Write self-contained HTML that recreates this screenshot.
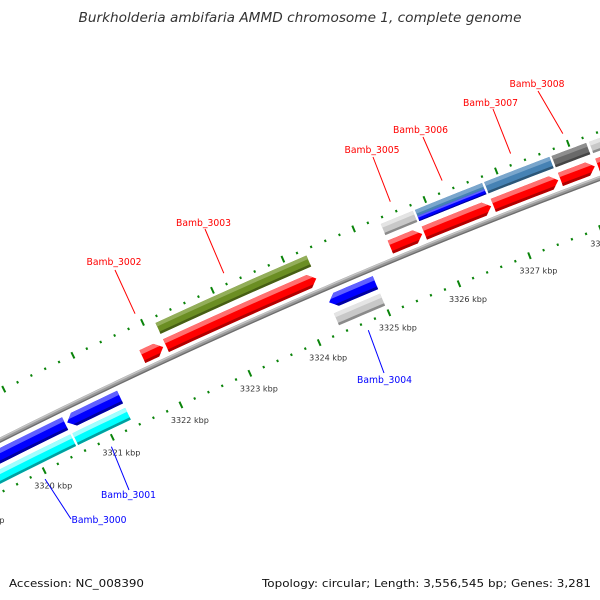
<!DOCTYPE html>
<html><head><meta charset="utf-8">
<style>
html,body{margin:0;padding:0;background:#fff;}
svg{display:block;}
text{font-family:"DejaVu Sans","Liberation Sans",sans-serif;}
</style></head>
<body>
<svg id="map" width="600" height="600" viewBox="0 0 600 600" xmlns="http://www.w3.org/2000/svg">
<rect width="600" height="600" fill="#fff"/>
<text x="300" y="22" text-anchor="middle" font-size="13" font-style="italic" fill="#333" textLength="443" lengthAdjust="spacingAndGlyphs">Burkholderia ambifaria AMMD chromosome 1, complete genome</text>
<g id="ticks"></g>
<g id="backbone"></g>
<g id="features"></g>
<g id="labels"></g>
<text x="9" y="587" font-size="11" fill="#111" textLength="135" lengthAdjust="spacingAndGlyphs">Accession: NC_008390</text>
<text x="591" y="587" text-anchor="end" font-size="11" fill="#111" textLength="329" lengthAdjust="spacingAndGlyphs">Topology: circular; Length: 3,556,545 bp; Genes: 3,281</text>
</svg>
<script>
// ---- data (kbp) ----
const geneNames  = ["Bamb_3000","Bamb_3001","Bamb_3002","Bamb_3003","Bamb_3004","Bamb_3005","Bamb_3006","Bamb_3007","Bamb_3008","Bamb_3009"];
const geneStart  = [3319.40, 3320.55, 3321.81, 3322.15, 3324.33, 3325.35, 3325.83, 3326.80, 3327.74, 3328.26];
const geneEnd    = [3320.52, 3321.32, 3322.11, 3324.30, 3324.99, 3325.80, 3326.77, 3327.71, 3328.22, 3328.80];
const geneStrand = [-1, -1, 1, 1, -1, 1, 1, 1, 1, 1];
const geneCog    = ["cyan","cyan","","olive","lightgray","lightgray","steelblue+blue","steelblue","dimgray","lightgray"];
const geneLabeled = [true,true,true,true,true,true,true,true,true,false];
const tickStart = 3318, tickEnd = 3330, tickStep = 0.2;
const tickLabels = ["3318 kbp","3319 kbp","3320 kbp","3321 kbp","3322 kbp","3323 kbp","3324 kbp","3325 kbp","3326 kbp","3327 kbp","3328 kbp","3329 kbp","3330 kbp"];

// ---- label layout (pixels, not data) ----
const labelTextPos = [[99,523],[128.5,498],[114,265],[203.5,226],[384.5,383],[372,153],[420.5,133],[490.5,106],[537,87],[0,0]];
const labelLineEnd = [[71,519],[129,490],[115,270],[205,229],[384,373],[373,157],[423,137],[493,109],[538,91],[0,0]];

// ---- geometry ----
const CX=2732, CY=5883, K=0.01255, T0=-2.01917, P0=3321;
const R_BB=6090, R_TO=6134, R_TI=6043;
function ang(p){return T0+(p-P0)*K;}
function pt(p,r){const a=ang(p);return [CX+r*Math.cos(a), CY+r*Math.sin(a)];}
const NS="http://www.w3.org/2000/svg";
function mk(tag,parent){const e=document.createElementNS(NS,tag);parent.appendChild(e);return e;}
const colorMap={cyan:["#00ffff","#9fffff","#00a0a0"],olive:["#6b8e23","#93ae5a","#465e14"],lightgray:["#c8c8c8","#e4e4e4","#8a8a8a"],steelblue:["#4682b4","#7aa6cc","#2c5677"],dimgray:["#696969","#8e8e8e","#454545"],red:["#ff0000","#ff7070","#b00000"],blue:["#0000ff","#6060ff","#0000a0"]};

// backbone
(function(){
  const g=document.getElementById('backbone');
  const layers=[[R_BB,5,"#9a9a9a"],[R_BB+1.5,1.5,"#c4c4c4"],[R_BB-1.8,1.3,"#6e6e6e"]];
  layers.forEach((L,i)=>{
    let d="";
    for(let p=3318;p<=3330.01;p+=0.1){const q=pt(p,L[0]);d+=(d?"L":"M")+q[0].toFixed(2)+","+q[1].toFixed(2);}
    const e=mk('path',g);
    
    
    e.setAttribute('d',d);e.setAttribute('fill','none');e.setAttribute('stroke',L[2]);e.setAttribute('stroke-width',L[1]);
  });
})();

// ticks
(function(){
  const g=document.getElementById('ticks');
  const n=Math.round((tickEnd-tickStart)/tickStep);
  for(let i=0;i<=n;i++){
    const p=tickStart+i*tickStep;
    const major=Math.abs(p-Math.round(p))<1e-6;
    const len=major?7:2.4;
    [R_TO,R_TI].forEach((r,j)=>{
      const a=pt(p,r-len/2),b=pt(p,r+len/2);
      const e=mk('line',g);
      
      
      e.setAttribute('x1',a[0]);e.setAttribute('y1',a[1]);e.setAttribute('x2',b[0]);e.setAttribute('y2',b[1]);
      e.setAttribute('stroke','#0a840a');e.setAttribute('stroke-width',2);
    });
    if(major){
      const k=Math.round(p)-tickStart;
      const q=pt(p,R_TI);
      const t=mk('text',g);
      
      
      t.setAttribute('x',q[0]+9);t.setAttribute('y',q[1]+18);
      t.setAttribute('text-anchor','middle');t.setAttribute('font-size','8');t.setAttribute('fill','#333');
      t.setAttribute('textLength','38');t.setAttribute('lengthAdjust','spacingAndGlyphs');
      t.textContent=tickLabels[k];
    }
  }
})();

// feature shape: band [a,b] of a bar spanning rIn..rOut, with optional arrow
function bandPath(p1,p2,rIn,rOut,dir,a,b,head){
  const rMid=(rIn+rOut)/2, half=(rOut-rIn)/2;
  const radii=[a]; if(a<rMid&&rMid<b) radii.push(rMid); radii.push(b);
  const endP=r=> dir>0 ? p2-head*Math.abs(r-rMid)/half : p2;
  const startP=r=> dir<0 ? p1+head*Math.abs(r-rMid)/half : p1;
  const pts=[];
  // end edge going outward
  for(const r of radii) pts.push(pt(endP(r),r));
  // outer arc back
  for(let k=1;k<=6;k++){const p=endP(b)+(startP(b)-endP(b))*k/6;pts.push(pt(p,b));}
  // start edge inward
  for(let i=radii.length-2;i>=0;i--) pts.push(pt(startP(radii[i]),radii[i]));
  for(let k=1;k<6;k++){const p=startP(a)+(endP(a)-startP(a))*k/6;pts.push(pt(p,a));}
  return "M"+pts.map(q=>q[0].toFixed(2)+","+q[1].toFixed(2)).join("L")+"Z";
}
function drawBar(g,name,p1,p2,rIn,rOut,dir,colors,head){
  const th=rOut-rIn;
  const bands=[[rIn,rOut,colors[0]],[rOut-th*0.33,rOut,colors[1]],[rIn,rIn+th*0.2,colors[2]]];
  bands.forEach((B,i)=>{
    const e=mk('path',g);
    
    
    e.setAttribute('d',bandPath(p1,p2,rIn,rOut,dir,B[0],B[1],head));
    e.setAttribute('fill',B[2]);
  });
}
(function(){
  const g=document.getElementById('features');
  const lg=document.getElementById('labels');
  for(let i=0;i<geneNames.length;i++){
    const s=geneStart[i],en=geneEnd[i],d=geneStrand[i];
    const gg=mk('g',g);
    
    
    if(d>0){
      drawBar(gg,'cds-forward',s,en,R_BB+6,R_BB+20,1,colorMap.red,0.1);
    } else {
      drawBar(gg,'cds-reverse',s,en,R_BB-21,R_BB-7,-1,colorMap.blue,0.1);
    }
    const cog=geneCog[i];
    if(cog){
      const rIn=d>0?R_BB+26:R_BB-39, rOut=d>0?R_BB+38:R_BB-26;
      const parts=cog.split('+');
      drawBar(gg,'cog-bar',s,en,rIn,rOut,0,colorMap[parts[0]],0);
      if(parts[1]){
        drawBar(gg,'cog-bar-secondary',s,en,rIn,rIn+(rOut-rIn)*0.45,0,colorMap[parts[1]],0);
      }
    }
    if(geneLabeled[i]){
      const mid=(s+en)/2;
      const q=pt(mid,d>0?6145:6035);
      const le=labelLineEnd[i], tp=labelTextPos[i];
      const col=d>0?"#ff0000":"#0000ff";
      const l=mk('line',lg);
      
      
      l.setAttribute('x1',q[0]);l.setAttribute('y1',q[1]);l.setAttribute('x2',le[0]);l.setAttribute('y2',le[1]);
      l.setAttribute('stroke',col);l.setAttribute('stroke-width',1);
      const t=mk('text',lg);
      
      
      t.setAttribute('x',tp[0]);t.setAttribute('y',tp[1]);t.setAttribute('text-anchor','middle');
      t.setAttribute('font-size','10');t.setAttribute('fill',col);
      t.setAttribute('textLength','55');t.setAttribute('lengthAdjust','spacingAndGlyphs');
      t.textContent=geneNames[i];
    }
  }
})();
</script>
</body></html>
